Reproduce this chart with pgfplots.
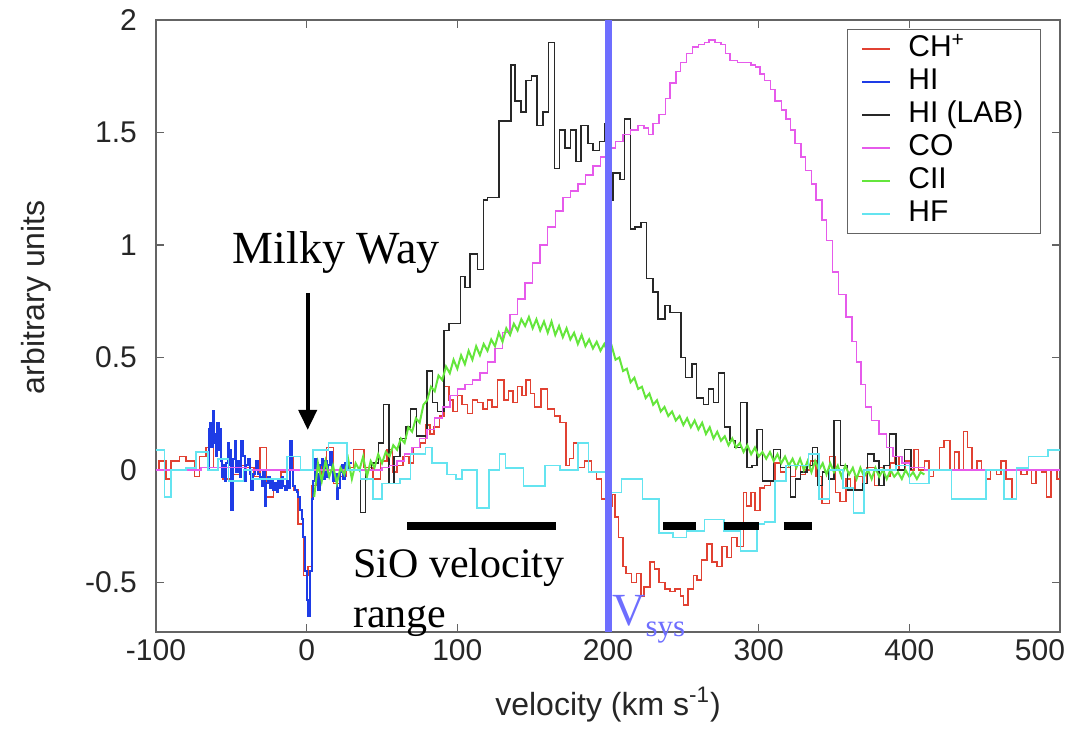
\documentclass[border=0pt]{standalone}
\usepackage{pgfplots}
\pgfplotsset{compat=1.18}
\usepackage{fontspec}
\setmainfont{Liberation Sans}
\newfontfamily\serifann{Liberation Serif}
\usetikzlibrary{arrows.meta}
\definecolor{chred}{RGB}{225,65,50}
\definecolor{hiblue}{RGB}{30,60,230}
\definecolor{labblack}{RGB}{40,40,40}
\definecolor{comag}{RGB}{230,90,235}
\definecolor{ciigreen}{RGB}{100,230,60}
\definecolor{hfcyan}{RGB}{100,228,240}
\definecolor{vsys}{RGB}{110,110,255}
\definecolor{axgray}{RGB}{100,100,100}
\begin{document}
\begin{tikzpicture}
\begin{axis}[
  scale only axis, width=452pt, height=306pt,
  xmin=-100, xmax=500, ymin=-0.72, ymax=2,
  xtick={-100,0,100,200,300,400,500},
  xticklabels={{-100},{0},{100},{200},{300},{400},{\hspace*{-20pt}500}},
  ytick={-0.5,0,0.5,1,1.5,2},
  /pgf/number format/assume math mode=true,
  tick label style={font=\fontsize{15}{15}\selectfont, text=black!85},
  yticklabel style={xshift=-6pt},
  xticklabel style={yshift=0pt},
  axis line style={axgray, line width=0.6pt},
  tick style={axgray, line width=0.6pt},
  major tick length=4pt,
  tick align=inside,
  xlabel={velocity (km s\textsuperscript{-1})},
  ylabel={arbitrary units},
  label style={font=\fontsize{16}{16}\selectfont, text=black!85},
  xlabel style={at={(axis description cs:0.5,-0.119)}, anchor=center},
  ylabel style={at={(axis description cs:-0.132,0.547)}, anchor=center},
  clip mode=individual,
  legend style={at={(0.979,0.985)}, anchor=north east, draw=axgray, line width=0.6pt,
    font=\fontsize{15}{15}\selectfont, inner ysep=1.5pt, inner xsep=7pt,
    nodes={text height=10.5pt, text depth=3pt, inner sep=1.5pt},
    row sep=0pt, column sep=7pt},
  legend cell align=left,
  legend image code/.code={\draw[#1, line width=1pt] (0pt,0pt) -- (14pt,0pt);},
]
% CH+
\addplot[const plot, chred, line width=0.75pt] table {
x y
-100 0.0
-98 0.04
-93.3 -0.04
-90 0.04
-84.4 0.06
-80 0.04
-74.4 -0.03
-71 0.06
-66.7 0.10
-62 0.01
-55.6 -0.04
-49 -0.02
-44 0.02
-40 0.01
-35 -0.03
-31 0.10
-26.7 -0.12
-22 -0.04
-17 -0.01
-13 0.06
-8.9 -0.09
-5.6 -0.24
-2 -0.47
1 -0.43
3.3 -0.07
6.7 -0.02
10 0.02
13 0.10
17.8 -0.06
22 -0.03
26 0.01
31 0.09
38 0.01
44 -0.04
49 0.04
53.3 0.09
57 -0.01
60 0.02
64 0.06
68 0.03
71 0.10
75.6 0.12
79 0.20
82 0.16
84.4 0.19
88 0.24
91 0.37
94.4 0.31
97 0.26
100 0.33
103 0.29
106.7 0.25
110 0.31
113.3 0.30
117 0.27
120 0.31
123 0.28
126.7 0.40
131.1 0.31
134 0.35
137 0.30
140 0.37
143 0.33
145.6 0.40
148.5 0.34
151.1 0.28
155.6 0.36
160 0.27
164.4 0.24
168 0.21
172 0.02
174.4 0.05
177 0.12
180 0.01
184.4 0.04
189 -0.01
192.2 -0.04
195.6 -0.13
198.9 -0.16
203 -0.11
204.5 -0.21
207 -0.30
210 -0.43
212 -0.46
215.6 -0.50
219 -0.46
222 -0.56
224 -0.52
227.8 -0.41
231 -0.44
234 -0.50
237.8 -0.53
241 -0.54
244.4 -0.53
248 -0.56
250 -0.60
253 -0.53
256.7 -0.47
259 -0.49
262 -0.40
265.6 -0.33
268.9 -0.41
272.2 -0.43
275.6 -0.34
279 -0.39
282 -0.30
285.6 -0.34
290 -0.10
292 -0.16
295 -0.10
297.5 -0.18
301 -0.08
304 -0.07
307.8 -0.05
311 0.03
314.4 -0.01
317.8 0.01
321 -0.03
324.4 0.02
327.8 -0.02
331 0.0
334.4 0.04
338 -0.03
342 -0.15
347 0.06
351 -0.10
354 -0.14
358 -0.04
361 -0.09
364 -0.03
369 -0.06
372 0.01
377 -0.07
380 0.01
383 -0.03
387 0.03
390 0.06
393 0.0
397 0.04
400 0.0
403 0.09
406 0.0
410 0.04
413 -0.03
416 0.0
420 0.10
423 0.13
427 0.0
430 0.08
433 0.0
436 0.17
438.5 0.10
441.7 0.0
445 0.04
448 0.0
451 -0.04
454 0.0
458 -0.02
461 0.04
464 -0.04
468 -0.13
471 0.0
474 -0.02
478 0.0
481 -0.06
484 0.0
488 -0.01
491 -0.12
494 0.0
498 -0.04
500 -0.04
};
\addlegendentry{CH\textsuperscript{+}}
% HI
\addplot[const plot, hiblue, line width=1pt] table {
x y
-65.6 0.01
-64.8 0.18
-64 0.21
-63.2 0.10
-62.4 0.26
-61.6 0.12
-60.8 0.16
-60 0.06
-59.2 0.21
-58.4 0.09
-57.6 0.18
-56.8 0.04
-56 -0.03
-55.2 0.02
-54.4 -0.05
-53.6 0.03
-52.2 0.12
-51.4 0.02
-50.6 0.09
-50 -0.18
-48.9 0.05
-47.8 0.13
-46.7 -0.01
-45.6 0.04
-44.4 -0.03
-43.3 0.13
-42.2 0.06
-41.1 -0.05
-40 0.02
-38.9 0.05
-37.8 -0.02
-36.7 -0.09
-35.6 -0.02
-34.4 0.0
-33.3 0.04
-32.2 -0.02
-31.1 -0.03
-29.9 -0.07
-28.9 0.0
-27.8 -0.16
-26.7 -0.06
-25.6 -0.03
-24.4 -0.08
-23.3 -0.04
-22.2 -0.09
-21.1 -0.06
-20 -0.10
-18.9 -0.05
-17.8 -0.08
-16.7 -0.03
-15.6 -0.07
-14.4 -0.09
-13.3 -0.05
-12.2 -0.08
-11.1 0.13
-10 0.0
-8.9 -0.07
-7.8 -0.09
-6.7 -0.10
-5.6 -0.12
-4.4 -0.18
-3.3 -0.22
-2.2 -0.30
-1.1 -0.45
0 -0.58
1 -0.65
2 -0.45
3.3 -0.13
4.4 -0.05
5.6 0.05
6.7 -0.02
7.8 -0.09
8.9 0.02
10 0.05
11.1 -0.04
12.2 0.04
13.3 -0.03
14.4 0.02
15.6 0.08
16.7 0.01
17.8 -0.05
18.9 -0.02
20 -0.13
21.1 -0.08
22.2 -0.01
23.3 0.02
24.4 -0.04
25.6 0.03
26.7 0.0
28 0.03
30 0.03
};
\addlegendentry{HI}
% HI (LAB)
\addplot[const plot, labblack, line width=0.75pt] table {
x y
30 0.0
35.6 -0.19
39 0.0
43 0.03
47.8 0.12
51 0.29
54.5 -0.06
58 0.06
62 0.14
66 0.19
69 0.27
73 0.15
80 0.44
83.5 0.30
87 0.26
91 0.62
94.4 0.65
102 0.86
105 0.81
108.4 0.96
113.3 0.89
117.3 1.20
120 1.21
127.8 1.55
135.6 1.80
138.2 1.64
142.2 1.59
145.6 1.73
149.3 1.75
152.9 1.53
156.7 1.59
160.4 1.90
164.4 1.34
167.8 1.51
171.6 1.43
175.1 1.51
178.9 1.37
182.2 1.53
186.7 1.45
190 1.42
194.4 1.46
197.8 1.54
200 1.40
201.5 1.20
203.3 1.32
208 1.29
211.1 1.56
215 1.07
218 1.08
222 1.10
225.5 0.85
230 0.79
233.3 0.67
237.8 0.73
241.1 0.70
248.4 0.50
251.6 0.41
255.6 0.47
258.9 0.32
263.3 0.29
266.7 0.36
270 0.30
273.3 0.43
277.3 0.19
281.1 0.13
284.4 0.10
287.8 0.30
292.2 0.01
295.6 0.02
298.9 0.18
302.7 -0.05
306.7 -0.05
310 0.09
314.4 0.01
317.8 0.02
321.1 -0.12
324.4 -0.04
327.8 -0.01
332.2 0.02
335.6 0.10
338.9 -0.07
342.2 -0.01
346.7 -0.04
350 0.22
354.4 0.02
358.9 -0.09
368.9 -0.06
372.2 0.07
376.7 0.04
380 -0.07
383.3 0.02
386.7 0.16
391.1 0.0
396.7 0.09
401.1 0.0
};
\addlegendentry{HI (LAB)}
% CO
\addplot[const plot, comag, line width=0.75pt] table {
x y
-100 0.0
-80 0.0
-70 0.01
-60 0.01
-40 0.0
-20 0.0
0 0.0
20 0.0
45 0.0
50 0.01
55 0.02
60 0.04
65 0.07
70 0.10
75 0.14
80 0.18
85 0.23
90 0.28
95 0.33
100 0.36
105 0.38
110 0.40
115 0.43
120 0.48
125 0.54
130 0.61
135 0.69
140 0.76
145 0.83
150 0.92
155 1.00
160 1.08
165 1.15
170 1.21
175 1.24
180 1.27
185 1.31
190 1.35
195 1.39
200 1.43
205 1.46
210 1.49
215 1.51
220 1.53
224 1.52
227 1.49
230 1.54
234 1.58
238 1.65
241 1.72
245 1.77
248 1.81
252 1.85
256 1.88
260 1.89
264 1.90
267 1.91
271 1.90
275 1.89
278 1.85
281 1.82
286 1.81
291 1.81
295 1.80
298 1.79
301 1.76
304 1.73
308 1.69
311 1.64
315 1.60
318 1.56
321 1.51
324 1.45
328 1.39
331 1.33
335 1.27
338 1.20
342 1.11
345 1.02
349 0.88
353 0.78
358 0.68
362 0.57
365 0.48
368 0.38
371 0.28
375 0.22
380 0.16
385 0.10
389 0.06
395 0.03
400 0.01
410 0.0
500 0.0
};
\addlegendentry{CO}
% CII
\addplot[sharp plot, ciigreen, line width=1pt] table {
x y
5 -0.12
7.5 0.03
10 -0.05
12.5 0.04
15 -0.03
17.5 0.02
20 -0.06
22.5 0.01
25 -0.02
27.5 0.05
30 -0.04
32.5 0.03
35 0.0
37.5 0.06
40 -0.03
42.5 0.04
45 0.01
47.5 0.07
50 0.03
52.5 0.08
55 0.06
57.5 0.11
60 0.09
62.5 0.14
65 0.12
67.5 0.19
70 0.17
72.5 0.23
75 0.21
77.5 0.29
80 0.31
82.5 0.37
85 0.35
87.5 0.42
90 0.40
92.5 0.46
95 0.43
97.5 0.49
100 0.45
102.5 0.51
105 0.47
107.5 0.53
110 0.49
112.5 0.55
115 0.51
117.5 0.56
120 0.53
122.5 0.58
125 0.55
127.5 0.61
130 0.57
132.5 0.63
135 0.60
137.5 0.65
140 0.62
142.5 0.67
145 0.64
147.5 0.68
150 0.63
152.5 0.67
155 0.62
157.5 0.66
160 0.61
162.5 0.66
165 0.60
167.5 0.64
170 0.59
172.5 0.63
175 0.58
177.5 0.61
180 0.56
182.5 0.60
185 0.55
187.5 0.58
190 0.54
192.5 0.57
195 0.53
197.5 0.56
200 0.52
202.5 0.55
205 0.49
207.5 0.50
210 0.44
212.5 0.45
215 0.39
217.5 0.41
220 0.36
222.5 0.37
225 0.32
227.5 0.34
230 0.29
232.5 0.31
235 0.26
237.5 0.28
240 0.24
242.5 0.26
245 0.22
247.5 0.24
250 0.20
252.5 0.23
255 0.19
257.5 0.22
260 0.18
262.5 0.21
265 0.16
267.5 0.19
270 0.14
272.5 0.17
275 0.13
277.5 0.15
280 0.11
282.5 0.14
285 0.10
287.5 0.12
290 0.08
292.5 0.11
295 0.07
297.5 0.10
300 0.06
302.5 0.08
305 0.05
307.5 0.08
310 0.04
312.5 0.07
315 0.03
317.5 0.06
320 0.02
322.5 0.05
325 0.01
327.5 0.05
330 0.0
332.5 0.04
335 -0.01
337.5 0.04
340 0.0
342.5 0.03
345 -0.02
347.5 0.03
350 -0.01
352.5 0.02
355 -0.03
357.5 0.02
360 -0.02
362.5 0.01
365 -0.04
367.5 0.01
370 -0.03
372.5 0.0
375 -0.04
377.5 0.01
380 -0.03
382.5 0.0
385 -0.04
387.5 0.0
390 -0.03
392.5 -0.01
395 -0.04
397.5 0.0
400 -0.03
402.5 -0.01
405 -0.04
407.5 -0.01
410 -0.02
};
\addlegendentry{CII}
% HF
\addplot[const plot, hfcyan, line width=0.8pt] table {
x y
-100 0.09
-94.4 -0.12
-90 0.0
-80 0.01
-73.3 0.08
-65.6 0.0
-59 0.05
-52 -0.05
-42 0.0
-36.7 -0.04
-13 0.06
-4 0.0
4.4 0.09
14.4 0.12
26.7 0.0
35.6 -0.04
44 -0.13
50 -0.06
62 -0.04
69 0.07
79 0.10
83 0.03
93 -0.02
99 -0.04
103 0.0
113 -0.17
121 0.0
128 0.07
132 0.01
144 -0.07
158 0.02
168 0.0
180 0.12
187 -0.01
200 -0.10
209 -0.04
223 -0.13
234 -0.28
243 -0.30
252 -0.27
264 -0.22
277 -0.27
288 -0.36
299 -0.24
304 -0.23
311 -0.05
318 0.02
333 0.07
340 -0.13
347 0.0
356 -0.08
363 -0.19
370 0.0
391 0.02
400 -0.06
413 0.0
428 -0.13
451 0.0
463 -0.13
471 0.01
479 0.06
492 0.09
500 0.09
};
\addlegendentry{HF}
% V_sys line
\addplot[vsys, line width=3.5pt, forget plot] coordinates {(200,-0.72) (200,2)};
% SiO range bar and dashes
\addplot[black, line width=4pt, forget plot] coordinates {(66.7,-0.25) (165.3,-0.25)};
\addplot[black, line width=4pt, forget plot] coordinates {(236.7,-0.25) (258.7,-0.25)};
\addplot[black, line width=4pt, forget plot] coordinates {(276.7,-0.25) (300,-0.25)};
\addplot[black, line width=4pt, forget plot] coordinates {(316.7,-0.25) (335.3,-0.25)};
% annotations
\draw[black, line width=2pt, -{Triangle[width=9pt,length=10pt]}] (axis cs:0.7,0.787) -- (axis cs:0.7,0.178);
\node[anchor=base west, inner sep=0pt, font=\serifann\fontsize{23}{23}\selectfont] at (axis cs:-49.3,0.916) {Milky Way};
\node[anchor=base west, inner sep=0pt, font=\serifann\fontsize{21}{21}\selectfont] at (axis cs:30.7,-0.476) {SiO velocity};
\node[anchor=base west, inner sep=0pt, font=\serifann\fontsize{21}{21}\selectfont] at (axis cs:30.7,-0.698) {range};
\node[anchor=base west, inner sep=0pt, text=vsys, font=\serifann\fontsize{23}{23}\selectfont] at (axis cs:202.7,-0.689) {V};
\node[anchor=base west, inner sep=0pt, text=vsys, font=\serifann\fontsize{15.5}{15.5}\selectfont] at (axis cs:224.7,-0.742) {sys};
\end{axis}
\pgfresetboundingbox
\path (current axis.south west) ++(-78pt,-49.5pt);
\path (current axis.north east) ++(4.5pt,10pt);
\end{tikzpicture}
\end{document}
